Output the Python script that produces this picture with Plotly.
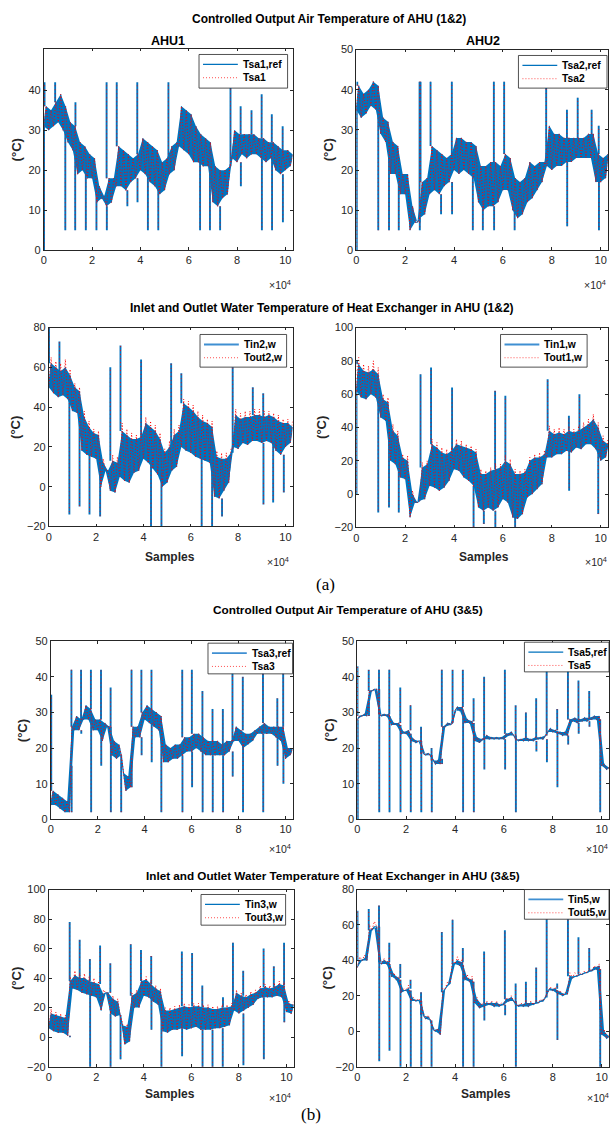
import plotly.graph_objects as go

W, H = 610, 1133
FONT = "Liberation Sans"
SERIF = "Liberation Serif"
BLUE = "#0072BD"
LBLUE = "#3f8fd2"
RED = "#FF0000"
AX = "#262626"

# ---------------- data ----------------
# Each band is given as a low and a high reading for every block of 2000 samples
# (low at the block start, high 1000 samples later); spikes are isolated samples.
XMAX = 103000
BLOCK = 2000

# AHU1 supply air temperature (Tsa1,ref / Tsa1)
tsa1_lo = [31, 30, 31, 32, 30, 27, 25, 19, 20, 18, 18, 12, 13, 11, 12, 16, 16, 15, 17, 18,
           20, 19, 17, 16, 14, 15, 19, 20, 26, 25, 24, 22, 22, 21, 21, 12, 11, 13, 14, 23,
           22, 24, 23, 24, 24, 23, 22, 23, 20, 19, 20, 21]
tsa1_hi = [36, 35, 37, 39, 36, 32, 31, 27, 26, 24, 23, 16, 13.5, 18, 18, 26, 25, 24, 23, 24,
           28, 27, 26, 25, 22, 23, 26, 27, 36, 35, 34, 31, 29, 28, 27, 21, 20, 20, 21, 30,
           29, 29, 29, 29, 28, 28, 27, 27, 26, 25, 25, 24]
tsa1_spk_x = [100, 300, 4700, 8900, 13000, 13100, 17400, 21800, 26000, 26100, 30200, 34600,
              38700, 38800, 43100, 47400, 51600, 64700, 68800, 73000, 77300, 81500, 81600,
              86000, 90200, 90300, 94400, 94500, 98900, 99000]
tsa1_spk_y = [0, 42, 42, 5, 5, 37, 5, 5, 42, 5, 42, 11, 42, 12, 5, 5, 42, 5, 5, 5, 42, 36, 16,
              35, 39, 5, 34, 5, 31, 7]

# AHU2 supply air temperature (Tsa2,ref / Tsa2)
tsa2_lo = [35, 33, 34, 36, 35, 29, 27, 19, 19, 14, 14, 5, 7, 8, 9, 14, 15, 14, 16, 17,
           20, 19, 20, 19, 18, 12, 10, 11, 11, 12, 15, 15, 10, 8, 9, 12, 13, 15, 17, 21,
           20, 21, 21, 22, 22, 23, 23, 23, 23, 17, 17, 18]
tsa2_hi = [41, 39, 40, 42, 41, 33, 32, 27, 26, 19, 19, 11, 7, 17, 18, 26, 25, 24, 23, 24,
           28, 28, 27, 27, 26, 21, 21, 22, 22, 21, 24, 23, 18, 17, 18, 22, 21, 22, 22, 31,
           29, 29, 28, 28, 28, 28, 28, 29, 29, 24, 23, 24]
tsa2_spk_x = [200, 400, 9000, 13400, 17400, 25900, 26000, 26300, 30400, 34700, 39100, 39200,
              47700, 51800, 56300, 56400, 60500, 64800, 77700, 86200, 86300, 90600, 96300,
              99200, 99300]
tsa2_spk_y = [0, 42, 5, 5, 5, 42, 5, 42, 42, 9, 42, 9, 5, 5, 42, 5, 42, 5, 42, 35, 6, 38, 35,
              31, 5]

# Heat exchanger water, left panel (Tin2,w / Tout2,w)
tin2_lo = [50, 47, 45, 46, 44, 38, 37, 18, 16, 15, 14, 0, 8, -2, -3, 5, 3, 2, 7, 8,
           14, 12, 9, 6, 0, 2, 8, 10, 20, 18, 17, 15, 14, 13, 12, -5, -6, -2, 2, 20,
           19, 22, 21, 23, 23, 22, 23, 22, 18, 16, 20, 22]
tin2_hi = [62, 60, 58, 60, 56, 50, 48, 35, 30, 27, 26, 12, 8, 13, 12, 28, 26, 24, 24, 25,
           32, 30, 28, 24, 17, 20, 26, 28, 42, 40, 38, 35, 33, 32, 30, 15, 14, 14, 17, 36,
           34, 35, 35, 36, 36, 35, 36, 35, 33, 32, 32, 30]
tout2_hi = [65, 63, 62, 64, 59, 52, 50, 38, 33, 29, 28, 14, 8, 16, 15, 32, 29, 27, 26, 28,
            35, 33, 31, 27, 19, 23, 29, 31, 44, 43, 41, 38, 36, 34, 33, 18, 17, 17, 19, 39,
            37, 38, 38, 39, 39, 38, 38, 37, 36, 34, 34, 33]
tin2_spk_x = [100, 4500, 8700, 13000, 17200, 21700, 26000, 30300, 39000, 43200, 47600, 51700,
              56000, 64600, 69000, 73200, 77700, 86200, 90600, 90700, 94800, 99300]
tin2_spk_y = [80, 73, -14, -10, -14, -15, 60, 71, 64, -22, -22, 62, 57, -22, -22, -15, 62, 50,
              47, -9, -8, -3]

# Heat exchanger water, right panel (Tin1,w / Tout1,w)
tin1_lo = [62, 58, 57, 60, 58, 46, 44, 20, 18, 10, 9, -14, -5, -4, -3, 5, 4, 2, 4, 8,
           15, 14, 10, 8, 5, -8, -10, -8, -10, -8, -3, -5, -14, -15, -12, -2, 0, 3, 6, 22,
           22, 24, 24, 26, 25, 28, 27, 30, 30, 27, 20, 22]
tin1_hi = [78, 74, 73, 75, 72, 57, 55, 38, 35, 22, 20, 0, -5, 16, 18, 30, 28, 25, 24, 26,
           30, 29, 28, 27, 25, 12, 12, 14, 15, 16, 20, 18, 12, 12, 13, 20, 22, 22, 24, 38,
           36, 37, 36, 38, 37, 38, 40, 42, 45, 40, 32, 30]
tout1_hi = [82, 78, 77, 80, 76, 60, 58, 42, 38, 24, 23, 2, -5, 19, 20, 33, 31, 28, 27, 28,
            33, 32, 30, 29, 27, 15, 14, 16, 18, 18, 23, 21, 15, 14, 15, 22, 24, 25, 26, 41,
            39, 40, 39, 40, 39, 41, 43, 45, 48, 43, 35, 33]
tin1_spk_x = [100, 300, 9000, 13400, 17400, 26300, 30600, 39200, 48000, 52200, 56800, 56900,
              61000, 65000, 78300, 87000, 87100, 91300, 99000]
tin1_spk_y = [0, 80, -11, -8, -11, 72, 76, 64, -22, -18, 62, -22, 59, -22, 69, 47, 2, 60, -12]

# AHU3 supply air temperature (Tsa3,ref / Tsa3)
tsa3_lo = [4, 4, 3, 2, 2, 25, 25, 28, 28, 25, 25, 22, 26, 18, 17, 18, 8, 9, 23, 23,
           28, 27, 26, 25, 16, 16, 17, 17, 18, 19, 19, 20, 19, 18, 18, 18, 18, 18, 19, 22,
           22, 20, 21, 22, 24, 24, 24, 24, 23, 22, 17, 18]
tsa3_hi = [8, 7, 6, 5, 26, 29, 28, 32, 31, 28, 28, 27, 26, 22, 21, 13, 12, 26, 26, 30,
           32, 31, 30, 29, 21, 20, 21, 21, 23, 23, 24, 24, 23, 22, 22, 22, 21, 22, 22, 26,
           25, 24, 24, 25, 26, 27, 26, 26, 26, 26, 20, 20]
tsa3_spk_x = [200, 8800, 8900, 12900, 13000, 17100, 17200, 21400, 21500, 25500, 25600, 30000,
              34400, 34500, 38600, 38700, 42900, 43000, 47100, 56000, 56100, 60100, 60200,
              64600, 64700, 68900, 69000, 73300, 73400, 77400, 77500, 81800, 81900, 90400,
              90500, 96500, 96600, 99000, 99100]
tsa3_spk_y = [35, 42, 15, 42, 24, 42, 2, 42, 15, 37, 2, 2, 42, 18, 42, 18, 42, 16, 2, 42, 2,
              42, 9, 36, 2, 31, 2, 31, 2, 42, 12, 40, 2, 42, 2, 34, 15, 42, 10]

# AHU5 supply air temperature (Tsa5,ref / Tsa5)
tsa5_lo = [28, 29, 29, 36, 36.5, 29, 29, 26.5, 26.5, 24, 24, 22, 21.5, 22, 18, 18, 15.5, 15.5,
           26, 26.5, 30.5, 30.5, 27, 27, 22, 21.5, 22.5, 22.5, 22.5, 22.5, 22.5, 23.5, 23.5,
           22, 22, 22, 22, 22.5, 22.5, 24.5, 24.5, 24, 23.5, 23.5, 27.5, 27, 27.5, 27.5, 28,
           28, 15, 14]
tsa5_hi = [29, 29.5, 36, 36.5, 29.5, 29.5, 29.5, 27, 27, 24.5, 25, 22.5, 22, 18.5, 18.5, 16.5,
           16.5, 26, 27, 27, 31.5, 31.5, 28, 27.5, 23, 22.5, 23.5, 23, 23, 23, 24, 24.5, 22.5,
           22.5, 23, 22.5, 23, 23, 23.5, 25.5, 25, 24.5, 24.5, 28, 28.5, 28, 28.5, 28.5, 29,
           29, 15.5, 14.5]
tsa5_spk_x = [100, 200, 4700, 4800, 8900, 9000, 13100, 13200, 17600, 17700, 21800, 21900,
              26100, 26200, 30400, 30500, 34600, 34700, 39000, 43200, 43300, 47600, 47700,
              51900, 52000, 60400, 60500, 64800, 64900, 69000, 73200, 73300, 77500, 77600,
              81800, 81900, 86200, 86300, 90500, 90600, 94900, 95000, 99300, 99400]
tsa5_spk_y = [43, 0, 42, 33, 42, 2, 42, 2, 37, 2, 32, 2, 26, 2, 20, 2, 42, 17, 42, 42, 2, 34,
              2, 40, 14, 42, 14, 32, 2, 30, 34, 19, 42, 16, 31, 9, 42, 21, 39, 24, 36, 26,
              22, 2]

# Heat exchanger water, AHU3 (Tin3,w / Tout3,w)
tin3_lo = [6, 4, 3, 3, 1, 33, 32, 30, 29, 28, 27, 18, 30, 16, 14, 15, -5, -3, 20, 20,
           28, 27, 24, 22, 4, 3, 5, 5, 6, 5, 6, 7, 5, 5, 5, 6, 6, 7, 8, 18,
           16, 18, 20, 22, 26, 27, 27, 27, 28, 27, 17, 16]
tin3_hi = [16, 15, 14, 13, 38, 42, 40, 40, 38, 37, 36, 29, 30, 26, 24, 8, 7, 28, 30, 38,
           39, 36, 33, 31, 18, 18, 19, 20, 21, 20, 21, 21, 20, 20, 19, 19, 20, 20, 21, 30,
           28, 27, 29, 30, 33, 34, 33, 34, 36, 35, 23, 22]
tout3_hi = [19, 17, 16, 15, 41, 45, 43, 43, 41, 40, 38, 32, 30, 28, 26, 10, 9, 30, 32, 40,
            41, 38, 35, 33, 20, 20, 21, 22, 23, 22, 23, 23, 22, 22, 21, 21, 22, 22, 23, 32,
            30, 29, 31, 32, 35, 36, 35, 36, 38, 37, 25, 24]
tin3_spk_x = [8800, 8900, 13000, 17300, 17400, 21600, 25900, 26000, 30200, 34500, 38800,
              43100, 43200, 47400, 56000, 56100, 60300, 64600, 64700, 68900, 73200, 73300,
              77500, 81800, 81900, 90400, 90500, 94700, 99000, 99100]
tin3_spk_y = [78, 0, 66, 53, -22, 62, 50, -22, -15, 63, 59, 55, 5, -22, 58, -13, 57, 35, -22,
              -22, -22, 27, 64, 45, -19, 60, -15, 48, 64, 10]

# Heat exchanger water, AHU5 (Tin5,w / Tout5,w)
tin5_lo = [36, 40, 40, 57, 59, 38, 38, 31, 29, 22, 23, 17, 17, 17, 7, 6, 0, -2, 24, 27,
           38, 37, 29, 28, 16, 13, 14, 15, 14, 14, 15, 17, 17, 14, 14, 14, 15, 16, 17, 23,
           23, 21, 20, 21, 30, 31, 32, 33, 34, 35, -2, -4]
tin5_hi = [40, 41, 57, 59, 39, 40, 39, 32, 30, 23, 24, 18, 17.5, 9, 8, 1, 1, 22, 26, 38,
           40, 39, 30, 29, 18, 15, 16, 16, 16, 15, 18, 19, 15, 15, 16, 16, 16, 17, 19, 24,
           24, 22, 21, 31, 31, 32, 33, 34, 36, 37, 0, -3]
tout5_hi = [42, 43, 60, 62, 41, 41, 41, 33, 31, 24, 26, 19, 18.5, 10, 9, 2, 1.5, 24, 28, 40,
            42, 41, 32, 31, 19, 16, 17, 17, 17, 16, 19, 20, 16, 16, 17, 17, 17, 18, 20, 25,
            25, 23, 22, 33, 33, 33, 34, 35, 37, 38, 1, -2]
tin5_spk_x = [100, 4700, 8900, 9000, 13100, 13200, 17600, 17700, 21800, 21900, 26100, 26200,
              30400, 34600, 39000, 43200, 43300, 47600, 51900, 52000, 60400, 60500, 64800,
              64900, 69000, 73200, 77500, 81800, 81900, 86200, 90500, 94900, 99300, 99400]
tin5_spk_y = [68, 69, 71, -17, 50, -11, 38, -22, 29, -22, 22, -22, -22, 56, 63, 47, -22, -22,
              45, 6, 57, 9, 27, -22, 28, 36, 65, 27, -5, 70, 53, 47, 12, -22]

x_tick_vals = [0, 20000, 40000, 60000, 80000, 100000]
x_tick_text = ["0", "2", "4", "6", "8", "10"]


def series(lo, hi):
    """Band readings as one time-ordered zig-zag trace."""
    xs, ys = [], []
    for k, (a, b) in enumerate(zip(lo, hi)):
        xs += [BLOCK * k, BLOCK * k + BLOCK // 2]
        ys += [a, b]
    return xs, ys


def band(lo, hi):
    """Closed outline of the band between the low and high readings."""
    xs_hi = [BLOCK * k + BLOCK // 2 for k in range(len(hi))]
    xs_lo = [BLOCK * k for k in range(len(lo))]
    return xs_hi + xs_lo[::-1], list(hi) + list(lo)[::-1]


def spikes(lo, hi, spk_x, spk_y):
    """Each spike sample as a vertical stroke leaving the band of its block."""
    xs, ys = [], []
    for x, y in zip(spk_x, spk_y):
        k = min(x // BLOCK, len(lo) - 1)
        base = hi[k] if y > hi[k] else lo[k]
        xs += [x, x, None]
        ys += [base, y, None]
    return xs, ys


# ---------------- layout of the eight panels (pixels) ----------------
panels = [
    dict(box=(41, 291, 43, 247), yr=[0, 50.4], yt=[0, 10, 20, 30, 40],
         blue=("Tsa1,ref", tsa1_lo, tsa1_hi, tsa1_spk_x, tsa1_spk_y),
         red=("Tsa1", tsa1_lo, tsa1_hi, tsa1_spk_x, tsa1_spk_y),
         leg=(197, 286, 49, 83), legblue=(BLUE, 1.3), ytx=14, exp=(265, 281), samples=None),
    dict(box=(355, 608, 44, 247), yr=[0, 50], yt=[0, 10, 20, 30, 40, 50],
         blue=("Tsa2,ref", tsa2_lo, tsa2_hi, tsa2_spk_x, tsa2_spk_y),
         red=("Tsa2", tsa2_lo, tsa2_hi, tsa2_spk_x, tsa2_spk_y),
         leg=(518, 607, 50, 83), legblue=(BLUE, 1.3), ytx=328, exp=(582, 281), samples=None),
    dict(box=(46, 291, 325, 526), yr=[-20, 80], yt=[-20, 0, 20, 40, 60, 80],
         blue=("Tin2,w", tin2_lo, tin2_hi, tin2_spk_x, tin2_spk_y),
         red=("Tout2,w", tin2_lo, tout2_hi, tin2_spk_x, tin2_spk_y),
         leg=(198, 285, 332, 365), legblue=(LBLUE, 2), ytx=13, exp=(263, 561),
         samples=(168, 557)),
    dict(box=(355, 608, 325, 527), yr=[-20, 100], yt=[-20, 0, 20, 40, 60, 80, 100],
         blue=("Tin1,w", tin1_lo, tin1_hi, tin1_spk_x, tin1_spk_y),
         red=("Tout1,w", tin1_lo, tout1_hi, tin1_spk_x, tin1_spk_y),
         leg=(500, 587, 332, 365), legblue=(LBLUE, 2), ytx=320, exp=(583, 561),
         samples=(483, 557)),
    dict(box=(48, 291, 642, 822), yr=[0, 50], yt=[0, 10, 20, 30, 40, 50],
         blue=("Tsa3,ref", tsa3_lo, tsa3_hi, tsa3_spk_x, tsa3_spk_y),
         red=("Tsa3", tsa3_lo, tsa3_hi, tsa3_spk_x, tsa3_spk_y),
         leg=(206, 291, 644, 675), legblue=(LBLUE, 1.8), ytx=19, exp=(265, 852), samples=None),
    dict(box=(356, 609, 642, 822), yr=[0, 50], yt=[0, 10, 20, 30, 40, 50],
         blue=("Tsa5,ref", tsa5_lo, tsa5_hi, tsa5_spk_x, tsa5_spk_y),
         red=("Tsa5", tsa5_lo, tsa5_hi, tsa5_spk_x, tsa5_spk_y),
         leg=(524, 609, 643, 673), legblue=(BLUE, 1.4), ytx=328, exp=(584, 852), samples=None),
    dict(box=(46, 292, 893, 1072), yr=[-20, 100], yt=[-20, 0, 20, 40, 60, 80, 100],
         blue=("Tin3,w", tin3_lo, tin3_hi, tin3_spk_x, tin3_spk_y),
         red=("Tout3,w", tin3_lo, tout3_hi, tin3_spk_x, tin3_spk_y),
         leg=(199, 284, 898, 929), legblue=(BLUE, 1.3), ytx=13, exp=(265, 1103),
         samples=(168, 1100)),
    dict(box=(356, 609, 893, 1072), yr=[-20, 80], yt=[-20, 0, 20, 40, 60, 80],
         blue=("Tin5,w", tin5_lo, tin5_hi, tin5_spk_x, tin5_spk_y),
         red=("Tout5,w", tin5_lo, tout5_hi, tin5_spk_x, tin5_spk_y),
         leg=(524, 609, 893, 923), legblue=(LBLUE, 1.8), ytx=326, exp=(585, 1103),
         samples=(485, 1100)),
]


def px(x):
    return x / W


def py(y):
    return 1 - y / H


fig = go.Figure()
layout = {}
annotations = []
shapes = []

for i, p in enumerate(panels, start=1):
    sfx = "" if i == 1 else str(i)
    xa, ya = "x" + sfx, "y" + sfx
    x0, x1, y0, y1 = p["box"]

    bname, lo, hi, sx, sy = p["blue"]
    fx, fy = band(lo, hi)
    fig.add_trace(go.Scatter(x=fx, y=fy, mode="lines", fill="toself", fillcolor=BLUE,
                             line=dict(width=0), xaxis=xa, yaxis=ya, hoverinfo="skip"))
    bx, by = series(lo, hi)
    fig.add_trace(go.Scatter(x=bx, y=by, mode="lines", name=bname,
                             line=dict(color=BLUE, width=1.1), xaxis=xa, yaxis=ya,
                             hoverinfo="skip"))
    kx, ky = spikes(lo, hi, sx, sy)
    fig.add_trace(go.Scatter(x=kx, y=ky, mode="lines", line=dict(color=BLUE, width=1.9),
                             xaxis=xa, yaxis=ya, hoverinfo="skip", connectgaps=False))

    rname, lo, hi, sx, sy = p["red"]
    rx, ry = series(lo, hi)
    fig.add_trace(go.Scatter(x=rx, y=ry, mode="lines", name=rname,
                             line=dict(color=RED, width=1, dash="1px,2px"),
                             xaxis=xa, yaxis=ya, hoverinfo="skip"))
    kx, ky = spikes(lo, hi, sx, sy)
    fig.add_trace(go.Scatter(x=kx, y=ky, mode="lines",
                             line=dict(color=RED, width=0.8, dash="1px,3px"),
                             xaxis=xa, yaxis=ya, hoverinfo="skip", connectgaps=False))

    common = dict(ticks="inside", ticklen=3, tickwidth=0.8, tickcolor=AX,
                  showline=True, linecolor=AX, linewidth=0.8, mirror="ticks",
                  showgrid=False, zeroline=False, fixedrange=True,
                  tickfont=dict(family=FONT, size=11, color=AX))
    layout["xaxis" + sfx] = dict(domain=[px(x0), px(x1)], anchor=ya, range=[0, XMAX],
                                 tickvals=x_tick_vals, ticktext=x_tick_text, **common)
    layout["yaxis" + sfx] = dict(domain=[py(y1), py(y0)], anchor=xa, range=p["yr"],
                                 tickvals=p["yt"], **common)

    # legend box drawn in the page
    lL, lR, lT, lB = p["leg"]
    r1, r2 = lT + 10, lT + 23.5
    shapes.append(dict(type="rect", xref="paper", yref="paper", x0=px(lL), x1=px(lR),
                       y0=py(lB), y1=py(lT), fillcolor="white",
                       line=dict(color=AX, width=0.8), layer="above"))
    bc, bw = p["legblue"]
    shapes.append(dict(type="line", xref="paper", yref="paper", x0=px(lL + 4),
                       x1=px(lL + 39), y0=py(r1), y1=py(r1),
                       line=dict(color=bc, width=bw), layer="above"))
    shapes.append(dict(type="line", xref="paper", yref="paper", x0=px(lL + 4),
                       x1=px(lL + 39), y0=py(r2), y1=py(r2),
                       line=dict(color="#ff5050", width=1, dash="1px,2px"), layer="above"))
    for txt, yy in ((bname, r1), (rname, r2)):
        annotations.append(dict(text="<b>" + txt + "</b>", x=px(lL + 42), y=py(yy),
                                xanchor="left", font=dict(family=FONT, size=10.3,
                                                          color="black")))

    annotations.append(dict(text="<b>(°C)</b>", x=px(p["ytx"]), y=py((y0 + y1) / 2),
                            textangle=-90, font=dict(family=FONT, size=13, color=AX)))
    annotations.append(dict(text="×10<sup>4</sup>", x=px(p["exp"][0]), y=py(p["exp"][1]),
                            xanchor="left", font=dict(family=FONT, size=10.5, color=AX)))
    if p["samples"]:
        annotations.append(dict(text="<b>Samples</b>", x=px(p["samples"][0]),
                                y=py(p["samples"][1]),
                                font=dict(family=FONT, size=12, color=AX)))

titles = [
    ("Controlled Output Air Temperature of AHU (1&2)", 328, 13, 12),
    ("AHU1", 166, 35, 12.5),
    ("AHU2", 482, 35, 12.5),
    ("Inlet and Outlet Water Temperature of Heat Exchanger in AHU (1&2)", 321, 305, 12),
    ("Controlled Output Air Temperature of AHU (3&5)", 347, 610, 11.8),
    ("Inlet and Outlet Water Temperature of Heat Exchanger in AHU (3&5)", 332, 879, 11.7),
]
for text, x, y, s in titles:
    annotations.append(dict(text="<b>" + text + "</b>", x=px(x), y=py(y),
                            font=dict(family=FONT, size=s, color="black")))

for text, x, y in [("(a)", 324, 585), ("(b)", 310, 1120)]:
    annotations.append(dict(text=text, x=px(x), y=py(y),
                            font=dict(family=SERIF, size=17, color="black")))

for a in annotations:
    a.update(xref="paper", yref="paper", showarrow=False)
    a.setdefault("xanchor", "center")
    a.setdefault("yanchor", "middle")

fig.update_layout(width=W, height=H, margin=dict(l=0, r=0, t=0, b=0),
                  paper_bgcolor="white", plot_bgcolor="white", showlegend=False,
                  annotations=annotations, shapes=shapes, **layout)

fig.write_html("out.html", config={"displayModeBar": False},
               post_script="document.body.style.margin='0';"
                           "document.body.style.overflow='hidden';")
